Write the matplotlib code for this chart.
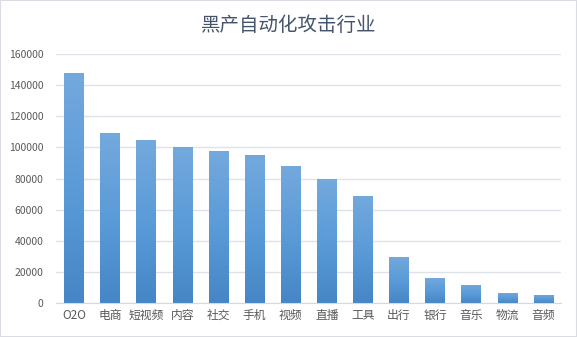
import matplotlib.pyplot as plt
import numpy as np
from matplotlib.colors import LinearSegmentedColormap
from matplotlib.patches import Rectangle

plt.rcParams["font.family"] = ["Noto Sans CJK SC", "DejaVu Sans"]

TITLE = "黑产自动化攻击行业"
categories = ["O2O", "电商", "短视频", "内容", "社交", "手机", "视频", "直播",
              "工具", "出行", "银行", "音乐", "物流", "音频"]
values = [148000, 109000, 105000, 100000, 98000, 95000, 88000, 80000,
          69000, 30000, 16500, 12000, 6500, 5500]
yticks = list(range(0, 160001, 20000))

text_color = "#595959"
grid_color = "#dfe2e8"
bar_cmap = LinearSegmentedColormap.from_list(
    "bar", ["#4686c6", "#5a9bd8", "#74a9dd"])

fig = plt.figure(figsize=(5.77, 3.37), dpi=100)
fig.patches.append(Rectangle((0, 0), 1, 1, transform=fig.transFigure,
                             fill=False, edgecolor="#d9dde3", linewidth=1.5))
ax = fig.add_axes([0.097, 0.1, 0.876, 0.74])

x = np.arange(len(categories))
width = 0.54
bars = ax.bar(x, values, width=width, color="none", zorder=2)
gradient = np.linspace(0, 1, 256).reshape(-1, 1)
for bar in bars:
    x0, y0 = bar.get_x(), bar.get_y()
    w, h = bar.get_width(), bar.get_height()
    img = ax.imshow(gradient, cmap=bar_cmap, origin="lower", aspect="auto",
                    extent=(x0, x0 + w, y0, y0 + h), zorder=2)
    img.set_clip_path(bar)

ax.set_xlim(-0.5, len(categories) - 0.5)
ax.set_ylim(0, 160000)
ax.set_yticks(yticks)
ax.set_yticklabels([str(v) for v in yticks])
ax.set_xticks(x)
ax.set_xticklabels(categories)
ax.grid(axis="y", color=grid_color, linewidth=1, zorder=0)
ax.set_axisbelow(True)
for side in ["top", "right", "left"]:
    ax.spines[side].set_visible(False)
ax.spines["bottom"].set_color("#d9d9d9")
ax.tick_params(axis="both", length=0, colors=text_color, labelsize=7.5)
ax.tick_params(axis="x", labelsize=8.5, pad=4)
ax.tick_params(axis="y", pad=9)

fig.text(0.5, 0.925, TITLE, ha="center", va="center", fontsize=14,
         color="#44546a", fontweight="medium")

fig.savefig("out.png", dpi=100)
